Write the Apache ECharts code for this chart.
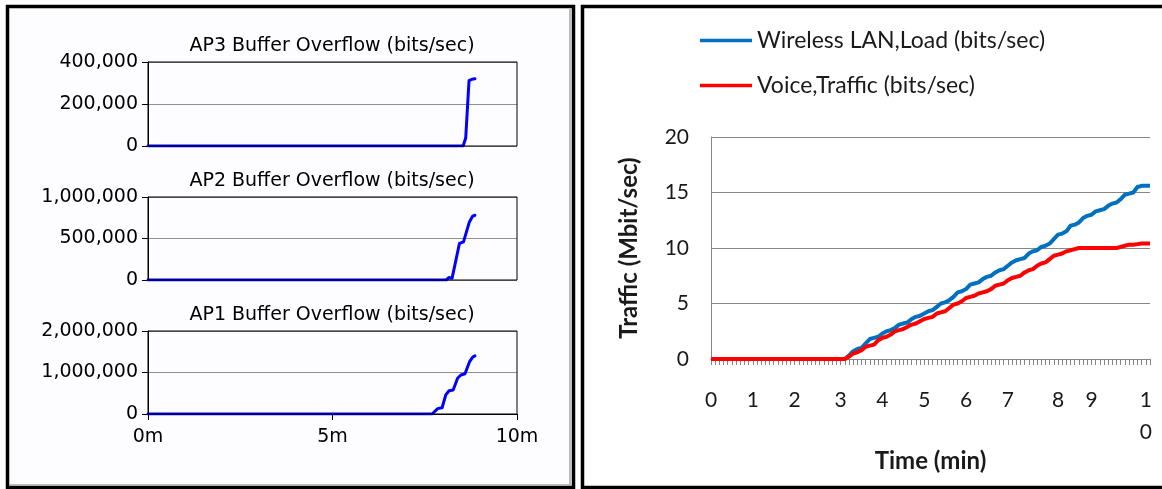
<!DOCTYPE html>
<html>
<head>
<meta charset="utf-8">
<script src="https://cdn.jsdelivr.net/npm/echarts@6/dist/echarts.min.js"></script>
<style>
  html, body { margin: 0; padding: 0; background: #fff; }
  #chart { width: 1162px; height: 489px; }
</style>
</head>
<body>
<div id="chart"></div>
<script>
// ---- Access point buffer overflow (time in minutes, overflow in bits/sec) ----
const ap3Time = [0, 8.54, 8.61, 8.70, 8.78, 8.86];
const ap3Bps  = [0, 0, 38000, 311000, 318000, 320000];

const ap2Time = [0, 8.08, 8.16, 8.24, 8.44, 8.55, 8.71, 8.80, 8.86];
const ap2Bps  = [0, 0, 30000, 20000, 440000, 460000, 700000, 770000, 780000];

const ap1Time = [0, 7.70, 7.85, 7.97, 8.07, 8.16, 8.27, 8.39, 8.48, 8.59, 8.72, 8.80, 8.86];
const ap1Bps  = [0, 0, 130000, 150000, 460000, 560000, 580000, 860000, 940000, 970000, 1270000, 1370000, 1400000];

const apTimeTicks = ['0m', '5m', '10m'];

// ---- Network traffic per sample (Mbit/sec) ----
const wlanLoad = [
  0, 0, 0, 0, 0, 0, 0, 0, 0, 0, 0, 0, 0, 0, 0, 0, 0, 0, 0, 0, 0, 0, 0, 0, 0, 0, 0, 0, 0, 0, 0, 0, 0,
  0.3, 0.7, 0.9, 1.0, 1.4, 1.8, 1.9, 2.0, 2.3, 2.5,
  2.6, 2.8, 3.1, 3.2, 3.3, 3.6, 3.8, 3.9, 4.1, 4.3,
  4.4, 4.7, 5.0, 5.1, 5.3, 5.6, 6.0, 6.1, 6.3, 6.7,
  6.8, 6.9, 7.2, 7.4, 7.5, 7.8, 8.0, 8.1, 8.4, 8.7,
  8.9, 9.0, 9.1, 9.5, 9.7, 9.8, 10.1, 10.2, 10.4, 10.8,
  11.2, 11.3, 11.5, 12.0, 12.1, 12.3, 12.7, 12.9, 13.0, 13.3,
  13.4, 13.5, 13.8, 14.0, 14.1, 14.4, 14.8, 14.9, 15.0, 15.5,
  15.6, 15.6, 15.6
];
const voiceTraffic = [
  0, 0, 0, 0, 0, 0, 0, 0, 0, 0, 0, 0, 0, 0, 0, 0, 0, 0, 0, 0, 0, 0, 0, 0, 0, 0, 0, 0, 0, 0, 0, 0, 0,
  0.2, 0.5, 0.6, 0.8, 1.1, 1.2, 1.3, 1.7, 1.9, 2.0,
  2.2, 2.5, 2.6, 2.7, 2.9, 3.1, 3.2, 3.4, 3.6, 3.7,
  3.8, 4.1, 4.2, 4.3, 4.6, 4.9, 5.0, 5.2, 5.5, 5.6,
  5.7, 5.9, 6.0, 6.1, 6.3, 6.6, 6.7, 6.8, 7.1, 7.3,
  7.4, 7.5, 7.8, 8.0, 8.1, 8.4, 8.6, 8.7, 9.0, 9.3,
  9.4, 9.5, 9.7, 9.8, 9.9, 10.0, 10.0, 10.0, 10.0, 10.0,
  10.0, 10.0, 10.0, 10.0, 10.0, 10.1, 10.2, 10.3, 10.3, 10.35,
  10.4, 10.4, 10.4
];
// minute labels and the sample each one sits on
const minuteLabels   = ['0', '1', '2', '3', '4', '5', '6', '7', '8', '9', '1\n0'];
const minuteLabelIdx = [0, 10, 20, 31, 41, 51, 61, 71, 83, 91, 104];

const sampleIds = wlanLoad.map((_, i) => i);
const zip = (xs, ys) => xs.map((x, i) => [x, ys[i]]);

const leftFont = 'DejaVu Sans';
const rightFont = 'Lato';
const apTitles = ['AP3 Buffer Overflow (bits/sec)', 'AP2 Buffer Overflow (bits/sec)', 'AP1 Buffer Overflow (bits/sec)'];
const apSeries = [zip(ap3Time, ap3Bps), zip(ap2Time, ap2Bps), zip(ap1Time, ap1Bps)];
const apMax = [400000, 1000000, 2000000];
const apGrids = [
  { top: 62, height: 84 },
  { top: 197, height: 83 },
  { top: 331, height: 83 }
];

const grids = apGrids.map(g => ({
  left: 148, width: 369, top: g.top, height: g.height,
  show: true, borderColor: '#000', borderWidth: 1, backgroundColor: 'transparent', z: 5
}));
grids.push({ left: 711, right: 12, top: 137, height: 222, containLabel: false });

const xAxes = apGrids.map((g, i) => ({
  type: 'value', gridIndex: i, min: 0, max: 10, interval: 5,
  axisLine: { show: i === 2, lineStyle: { color: '#000', width: 1 } },
  axisTick: { show: i === 2, length: 6, lineStyle: { color: '#000' } },
  axisLabel: {
    show: i === 2, margin: 14, color: '#000', fontFamily: leftFont, fontSize: 19,
    formatter: v => apTimeTicks[v / 5]
  },
  splitLine: { show: false }
}));
xAxes.push({
  type: 'category', gridIndex: 3, data: sampleIds, boundaryGap: false,
  axisLine: { lineStyle: { color: '#868686', width: 1 } },
  axisTick: { show: true, interval: 0, length: 6, lineStyle: { color: '#868686' } },
  axisLabel: {
    interval: idx => minuteLabelIdx.includes(idx),
    formatter: (v, idx) => minuteLabels[minuteLabelIdx.indexOf(idx)],
    margin: 25, lineHeight: 32, color: '#1a1a1a', fontFamily: rightFont, fontSize: 21
  },
  name: 'Time (min)', nameLocation: 'middle', nameGap: 80,
  nameTextStyle: { fontFamily: rightFont, fontWeight: 'bold', fontSize: 24, color: '#1a1a1a' }
});

const yAxes = apGrids.map((g, i) => ({
  type: 'value', gridIndex: i, min: 0, max: apMax[i], interval: apMax[i] / 2,
  axisLine: { show: true, lineStyle: { color: '#000' } },
  axisTick: { show: true, length: 6, lineStyle: { color: '#000' } },
  axisLabel: {
    margin: 10, color: '#000', fontFamily: leftFont, fontSize: 19,
    formatter: v => v.toLocaleString('en-US')
  },
  splitLine: { show: true, lineStyle: { color: '#909090', width: 1 } }
}));
yAxes.push({
  type: 'value', gridIndex: 3, min: 0, max: 20, interval: 5,
  axisLine: { show: true, lineStyle: { color: '#868686' } },
  axisTick: { show: false },
  axisLabel: { margin: 22, color: '#1a1a1a', fontFamily: rightFont, fontSize: 21 },
  splitLine: { show: true, lineStyle: { color: '#868686', width: 1 } },
  name: 'Traffic (Mbit/sec)', nameLocation: 'middle', nameGap: 70,
  nameTextStyle: { fontFamily: rightFont, fontWeight: 'bold', fontSize: 24, color: '#1a1a1a' }
});

const series = apSeries.map((d, i) => ({
  type: 'line', xAxisIndex: i, yAxisIndex: i, data: d, showSymbol: false, animation: false,
  lineStyle: { color: '#0000ff', width: 3, join: 'round', cap: 'round' }, itemStyle: { color: '#0000ff' }
}));
series.push({
  name: 'Wireless LAN,Load (bits/sec)', type: 'line', xAxisIndex: 3, yAxisIndex: 3,
  data: wlanLoad, showSymbol: false, animation: false,
  lineStyle: { color: '#0070c0', width: 4, join: 'round' }, itemStyle: { color: '#0070c0' }
});
series.push({
  name: 'Voice,Traffic (bits/sec)', type: 'line', xAxisIndex: 3, yAxisIndex: 3,
  data: voiceTraffic, showSymbol: false, animation: false,
  lineStyle: { color: '#ff0000', width: 4, join: 'round' }, itemStyle: { color: '#ff0000' }
});

const legendBase = {
  icon: 'rect', itemWidth: 52, itemHeight: 3.5, left: 700, padding: 0,
  textStyle: { fontFamily: rightFont, fontSize: 23, color: '#1a1a1a' }, selectedMode: false
};

const chart = echarts.init(document.getElementById('chart'), null, { renderer: 'canvas' });
chart.setOption({
  backgroundColor: '#ffffff',
  animation: false,
  title: apTitles.map((t, i) => ({
    text: t, left: 332, top: apGrids[i].top - 25, textAlign: 'center', padding: 0,
    textStyle: { fontFamily: leftFont, fontSize: 19, fontWeight: 'normal', color: '#000' }
  })),
  legend: [
    Object.assign({}, legendBase, { top: 29, data: ['Wireless LAN,Load (bits/sec)'] }),
    Object.assign({}, legendBase, { top: 74, data: ['Voice,Traffic (bits/sec)'] })
  ],
  grid: grids,
  xAxis: xAxes,
  yAxis: yAxes,
  series: series,
  graphic: [
    { type: 'rect', z: -20, shape: { x: 7.5, y: 6.5, width: 566, height: 481 },
      style: { fill: '#fdfdff', stroke: '#000', lineWidth: 3.5 } },
    { type: 'polyline', z: -19, shape: { points: [[570, 9], [570, 485], [9, 485]] },
      style: { stroke: '#a8a8a8', lineWidth: 1.5, fill: null } },
    { type: 'rect', z: -20, shape: { x: 582.5, y: 6.5, width: 600, height: 481 },
      style: { fill: '#ffffff', stroke: '#000', lineWidth: 3.5 } }
  ]
});
</script>
</body>
</html>
